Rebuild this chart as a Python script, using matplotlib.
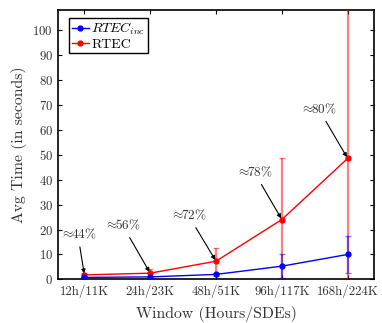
import numpy as np
import matplotlib
matplotlib.use("Agg")
import matplotlib.pyplot as plt

plt.rcParams['font.family'] = ['cmr10', 'DejaVu Serif']
plt.rcParams['mathtext.fontset'] = 'cm'
plt.rcParams['axes.formatter.use_mathtext'] = True

# data
windows = ["12h/11K", "24h/23K", "48h/51K", "96h/117K", "168h/224K"]
rtec_inc = [0.8, 1.0, 2.0, 5.3, 10.0]
rtec_inc_err = [0.2, 0.3, 0.5, 4.7, 7.4]
rtec = [1.8, 2.5, 7.3, 24.0, 48.5]
rtec_err = [0.8, 1.5, 5.3, 24.8, 60.0]
gains = [r"$\approx\!\!$44%", r"$\approx\!\!$56%", r"$\approx\!\!$72%",
         r"$\approx\!\!$78%", r"$\approx\!\!$80%"]

x = np.arange(len(windows))

fig = plt.figure(figsize=(3.82, 3.23), dpi=100)
ax = fig.add_axes([0.152, 0.135, 0.827, 0.834])

eb_red = ax.errorbar(x, rtec, yerr=rtec_err, color='red', lw=1.0, marker='o', ms=3.5,
                     ecolor=(1, 0, 0, 0.5), elinewidth=1.6, capsize=2, capthick=1.0,
                     zorder=3)
eb_blue = ax.errorbar(x, rtec_inc, yerr=rtec_inc_err, color='blue', lw=1.0, marker='o', ms=3.5,
                      ecolor=(0, 0, 1, 0.5), elinewidth=1.6, capsize=2, capthick=1.0,
                      zorder=4)

# annotation text positions (data coords)
text_pos = [(-0.1, 18.1), (0.58, 21.7), (1.58, 25.7), (2.58, 43.0), (3.56, 68.3)]
for i, (g, (tx, ty)) in enumerate(zip(gains, text_pos)):
    ax.annotate(g, xy=(x[i], rtec[i]), xytext=(tx, ty), ha='center', va='center',
                fontsize=9.5, color='#333333',
                arrowprops=dict(arrowstyle='-|>', color='black', lw=0.8,
                                mutation_scale=6, shrinkA=2, shrinkB=1))

ax.set_xlim(-0.4, 4.4)
ax.set_ylim(0, 108)
ax.set_xticks(x)
ax.set_xticklabels(windows)
ax.set_yticks(np.arange(0, 101, 10))
ax.tick_params(direction='in', top=True, right=True, labelsize=9.3, length=3,
               labelcolor='#333333')
for s in ax.spines.values():
    s.set_linewidth(1.2)

ax.set_xlabel("Window (Hours/SDEs)", fontsize=11.3, color='#333333', labelpad=6)
ax.set_ylabel("Avg Time (in seconds)", fontsize=11.3, color='#333333', labelpad=4)

leg = ax.legend([eb_blue[0], eb_red[0]], [r'$RTEC_{inc}$', 'RTEC'], loc='upper left',
                bbox_to_anchor=(0.035, 0.97), borderaxespad=0,
                fontsize=10, fancybox=False, framealpha=1, edgecolor='black',
                handlelength=1.2, handletextpad=0.2, borderpad=0.2,
                labelspacing=0.05)
leg.get_frame().set_linewidth(1.0)

fig.savefig("out.png", dpi=100)
